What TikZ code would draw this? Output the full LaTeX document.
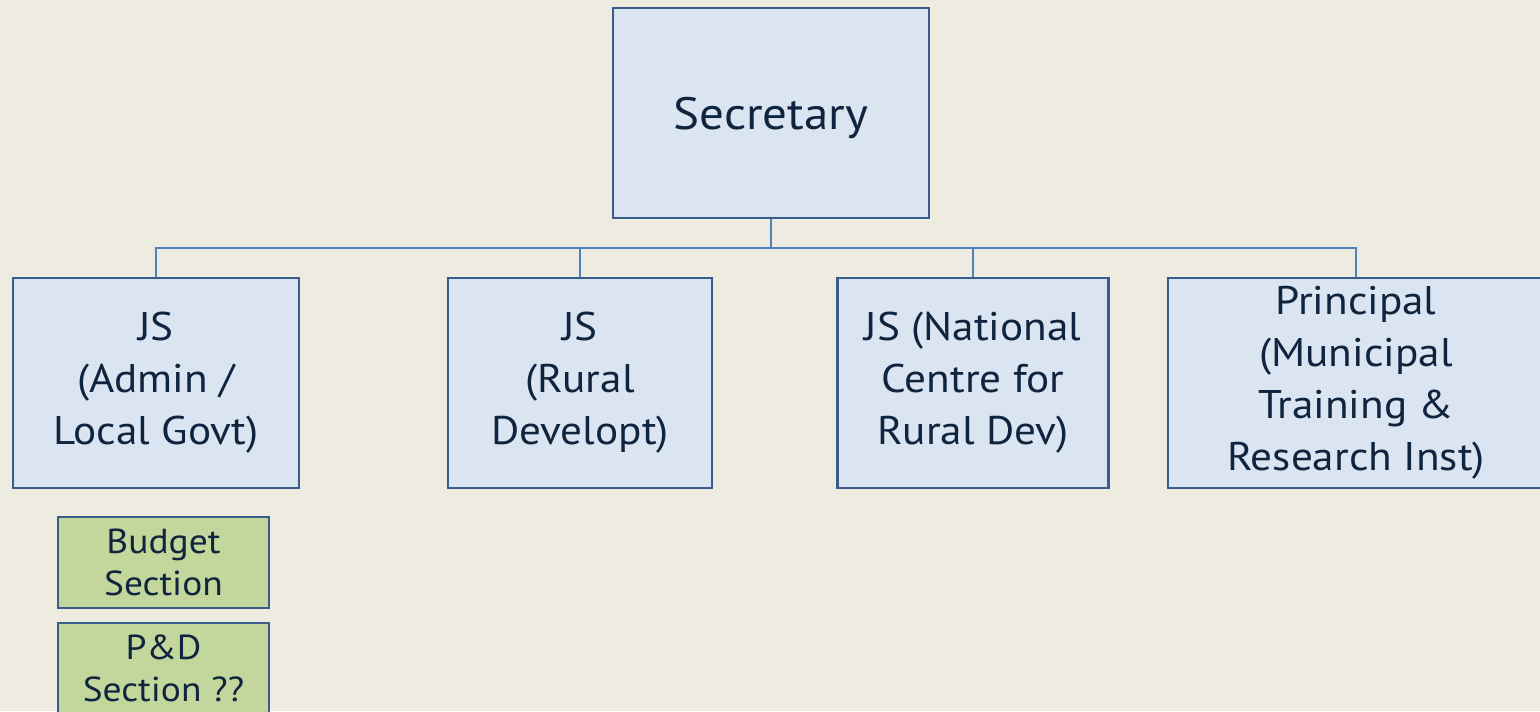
\documentclass[tikz,border=0pt]{standalone}
\usepackage{fontspec}
\setmainfont{PT Sans}[FakeStretch=1.08]
\usepackage{tikz}
\usetikzlibrary{positioning}

\definecolor{bgpaper}{RGB}{238,236,225}
\definecolor{boxblue}{RGB}{219,229,241}
\definecolor{edgeblue}{RGB}{56,93,138}
\definecolor{linkblue}{RGB}{79,129,189}
\definecolor{boxgreen}{RGB}{195,214,155}
\definecolor{inkblue}{RGB}{15,36,62}

\begin{document}
\begin{tikzpicture}[x=0.75pt,y=-0.75pt,
    post/.style={draw=edgeblue,line width=1.9pt,fill=boxblue,text=inkblue,
      align=center,inner sep=0pt,minimum height=157.5pt,font=\fontsize{30}{39}\selectfont},
    section/.style={draw=edgeblue,line width=1.9pt,fill=boxgreen,text=inkblue,
      align=center,inner sep=0pt,minimum width=158pt,minimum height=68pt,
      font=\fontsize{26}{32}\selectfont},
    link/.style={draw=linkblue,line width=2.2pt}]
  \fill[bgpaper] (0,0) rectangle (1540,711);
  \useasboundingbox (0,0) rectangle (1540,711);
  \clip (0,0) rectangle (1540,711);
  % top of the chart
  \node[post,minimum width=237pt,font=\fontsize{34}{40}\selectfont] (secretary) at (771,113) {\raisebox{-3.5pt}[\height][\depth]{Secretary}};
  % joint secretaries
  \node[post,minimum width=214.5pt] (jsadmin) at (156,383) {JS\\(Admin /\\Local Govt)};
  \node[post,minimum width=198pt] (jsrural) at (580,383) {JS\\(Rural\\Developt)};
  \node[post,minimum width=203pt] (jsncrd) at (973,383) {JS (National\\Centre for\\Rural Dev)};
  \node[post,minimum width=282pt] (principal) at (1356,383) {Principal\\(Municipal\\Training \&\\Research Inst)};
  % sections under admin
  \node[section] (budget) at (163.5,562.5) {Budget\\Section};
  \node[section] (pnd) at (163.5,668.5) {P\&D\\Section ??};
  % connectors
  \coordinate (bus) at (771,248);
  \draw[link] (secretary.south) -- (bus);
  \draw[link] (jsadmin.north) |- (bus) -| (principal.north);
  \draw[link] (jsrural.north) -- (jsrural.north |- bus);
  \draw[link] (jsncrd.north) -- (jsncrd.north |- bus);
\end{tikzpicture}
\end{document}
